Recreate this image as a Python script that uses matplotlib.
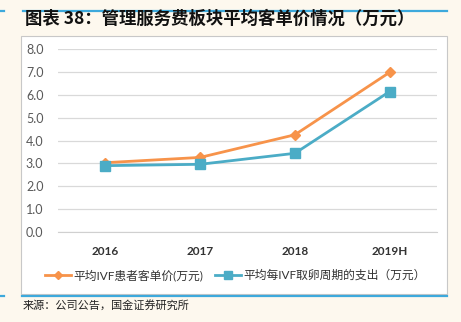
import matplotlib.pyplot as plt
from matplotlib.patches import Rectangle
from matplotlib.lines import Line2D

plt.rcParams['font.family'] = ['Lato', 'Noto Sans CJK SC', 'DejaVu Sans']

years = ['2016', '2017', '2018', '2019H']
avg_price = [3.03, 3.26, 4.25, 6.98]
avg_cycle_cost = [2.90, 2.96, 3.44, 6.14]
yticks = [0, 1, 2, 3, 4, 5, 6, 7, 8]

orange = '#F7934A'
blue = '#4BACC6'
cream = '#FDF8EE'
rule_blue = '#3DA9DC'
tick_grey = '#595959'

W, H = 461, 322
fig = plt.figure(figsize=(W / 100, H / 100), dpi=100, facecolor=cream)

def fx(px):
    return px / W

def fy(py):
    return 1 - py / H

# white chart box
fig.patches.append(Rectangle((fx(21), fy(294)), fx(447) - fx(21), fy(36) - fy(294),
                             transform=fig.transFigure, facecolor='white',
                             edgecolor='#C8C8C8', linewidth=0.8, zorder=-5))
# blue rules
fig.add_artist(Line2D([fx(23), fx(447)], [fy(11), fy(11)], color=rule_blue, lw=1.6))
fig.add_artist(Line2D([fx(0), fx(4)], [fy(11), fy(11)], color=rule_blue, lw=1.6))
fig.add_artist(Line2D([fx(22), fx(447)], [fy(296), fy(296)], color=rule_blue, lw=1.6))
fig.add_artist(Line2D([fx(0), fx(4)], [fy(296), fy(296)], color=rule_blue, lw=1.6))

fig.text(fx(25), fy(19), '图表 38：管理服务费板块平均客单价情况（万元）',
         family=['Noto Sans CJK SC', 'DejaVu Sans'], fontsize=12.5, fontweight='bold',
         style='italic', color='#111111', va='center', ha='left')
fig.text(fx(23), fy(305), '来源：公司公告，国金证券研究所',
         family=['Noto Sans CJK SC', 'DejaVu Sans'], fontsize=8, color='#222222',
         va='center', ha='left')

ax = fig.add_axes([fx(58), fy(232), fx(437) - fx(58), fy(49) - fy(232)], zorder=2)
ax.set_facecolor('none')
x = range(len(years))
ax.plot(x, avg_price, color=orange, lw=2.0, marker='D', markersize=5.5,
        label='平均IVF患者客单价(万元)', zorder=3)
ax.plot(x, avg_cycle_cost, color=blue, lw=2.0, marker='s', markersize=7.5,
        label='平均每IVF取卵周期的支出（万元）', zorder=3)

ax.set_xlim(-0.5, 3.5)
ax.set_ylim(0, 8)
ax.set_yticks(yticks)
ax.set_yticklabels([f'{v:.1f}' for v in yticks])
ax.set_xticks(list(x))
ax.set_xticklabels(years)
ax.grid(axis='y', color='#D9D9D9', lw=0.9)
ax.set_axisbelow(True)
for s in ['top', 'right', 'left']:
    ax.spines[s].set_visible(False)
ax.spines['bottom'].set_color('#D0D0D0')
ax.tick_params(axis='both', length=0, labelsize=9, colors=tick_grey)
ax.tick_params(axis='x', pad=10, labelcolor='#333333', labelsize=8.5)
ax.tick_params(axis='y', pad=10.5)
for lbl in ax.get_xticklabels():
    lbl.set_fontweight('bold')

leg = fig.legend(loc='center', bbox_to_anchor=(fx(235), fy(275)), ncol=2, frameon=False,
                 fontsize=8.5, handlelength=2.2, columnspacing=1.0, handletextpad=0.2,
                 markerscale=0.8)
for t in leg.get_texts():
    t.set_color('#333333')

fig.savefig('out.png', dpi=100, facecolor=cream)
